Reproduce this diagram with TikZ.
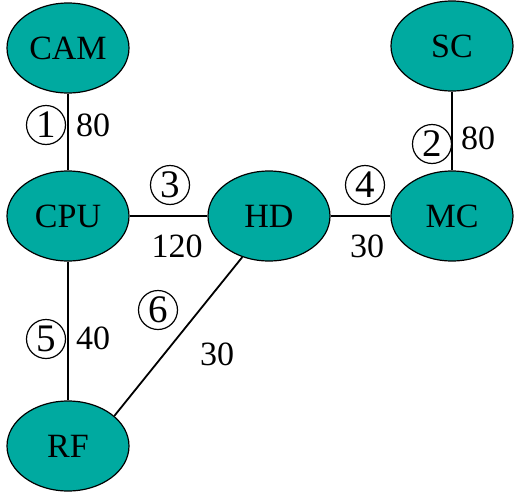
\documentclass[tikz,border=0pt]{standalone}
\usepackage{fontspec}
\setmainfont{Liberation Serif}
\usetikzlibrary{shapes.geometric}
\definecolor{tealfill}{RGB}{0,170,160}
\tikzset{
  unit/.style={ellipse, draw=black, line width=1.2pt, fill=tealfill,
    minimum width=122pt, minimum height=90pt, inner sep=0pt,
    font=\fontsize{34}{36}\selectfont},
  link/.style={draw=black, line width=1.8pt},
  num/.style={circle, draw=black, line width=1.2pt, minimum size=39pt,
    inner sep=0pt, font=\fontsize{39}{40}\selectfont},
  cost/.style={inner sep=0pt, font=\fontsize{34}{36}\selectfont}
}
\begin{document}
\begin{tikzpicture}[x=1pt, y=-1pt]
  \useasboundingbox (0,0) rectangle (515,496);
  % devices
  \node[unit] (cam) at (68,48)  {CAM};
  \node[unit] (cpu) at (68,216) {CPU};
  \node[unit] (hd)  at (269,216) {HD};
  \node[unit] (sc)  at (452,46) {SC};
  \node[unit] (mc)  at (452,216) {MC};
  \node[unit] (rf)  at (68,446) {RF};
  % links
  \draw[link] (cam) -- (cpu);
  \draw[link] (cpu) -- (hd);
  \draw[link] (hd) -- (mc);
  \draw[link] (sc) -- (mc);
  \draw[link] (cpu) -- (rf);
  \draw[link] (rf.33) -- (hd.237);
  % link numbers and costs
  \node[num] (n1) at (46,125) {1};
  \node[cost] (c1) at (93,125) {80};
  \node[num] (n2) at (432,144) {2};
  \node[cost] (c2) at (478,138) {80};
  \node[num] (n3) at (170,185) {3};
  \node[cost] (c3) at (177,246) {120};
  \node[num] (n4) at (365,185) {4};
  \node[cost] (c4) at (367,246) {30};
  \node[num] (n5) at (46,339) {5};
  \node[cost] (c5) at (93,338) {40};
  \node[num] (n6) at (158,310) {6};
  \node[cost] (c6) at (217,354) {30};
\end{tikzpicture}
\end{document}
